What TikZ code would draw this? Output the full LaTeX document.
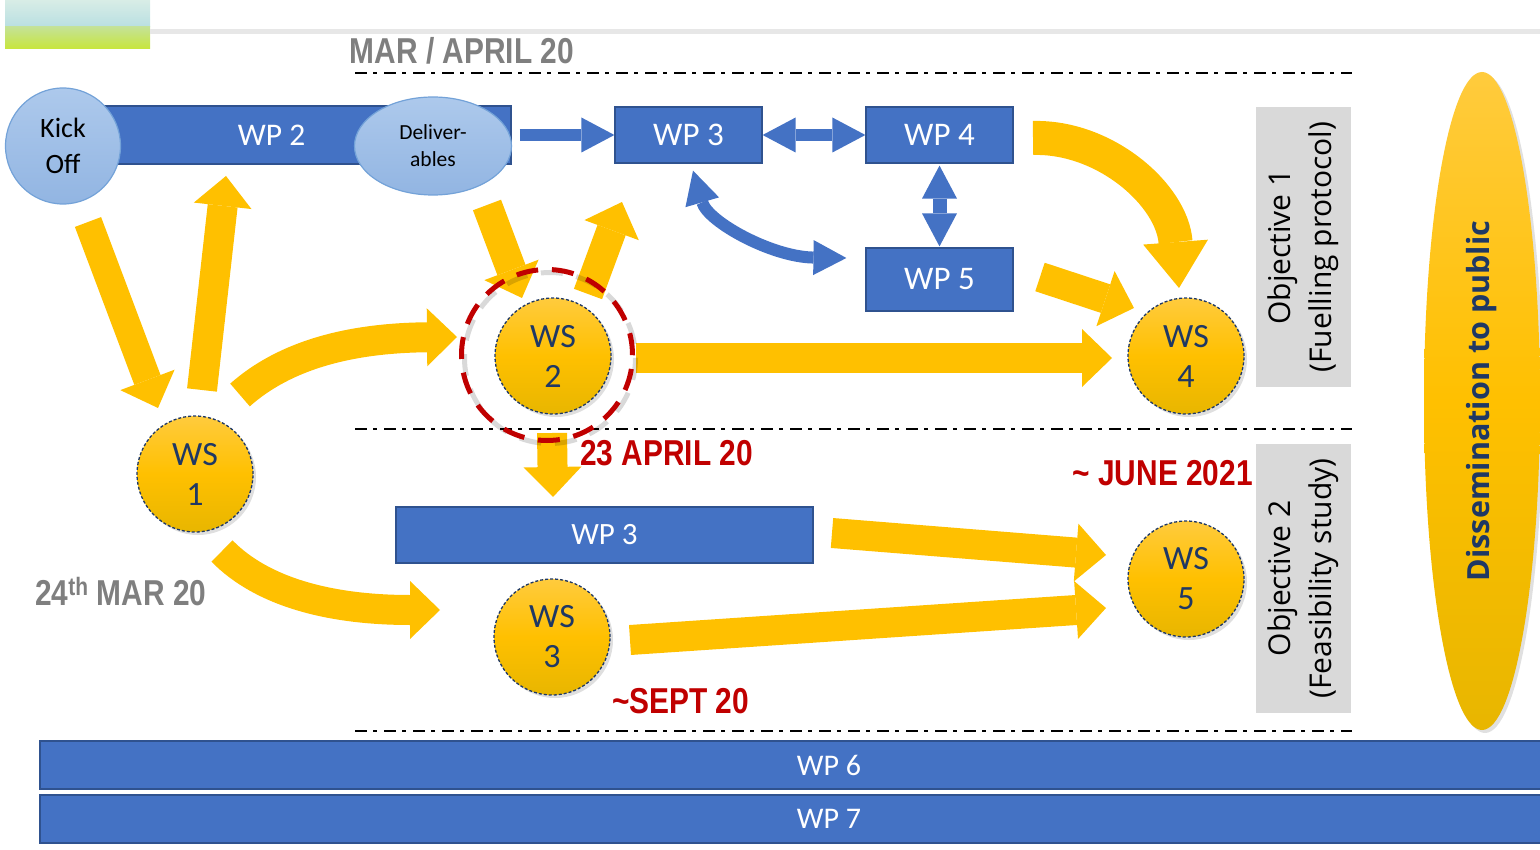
\documentclass[tikz,border=0pt]{standalone}
\usepackage{fontspec}
\setmainfont{Carlito}
\newfontfamily\osans{Open Sans}
\newfontfamily\narrow[FakeStretch=0.83]{Liberation Sans}
\usetikzlibrary{arrows.meta,shapes.geometric,shadows}
\definecolor{wpblue}{HTML}{4472C4}
\definecolor{wpedge}{HTML}{2F528F}
\definecolor{gold}{HTML}{FFC000}
\definecolor{goldlt}{HTML}{FFCB3D}
\definecolor{golddk}{HTML}{E8B600}
\definecolor{navy}{HTML}{1F3864}
\definecolor{datered}{HTML}{C00000}
\definecolor{dategray}{HTML}{7F7F7F}
\definecolor{objgray}{HTML}{D9D9D9}
\definecolor{skytop}{HTML}{ADC9EC}
\definecolor{skybot}{HTML}{92B5E2}
\definecolor{skyedge}{HTML}{73A2D8}
\definecolor{rulegray}{HTML}{E7E7E7}
\begin{document}
\begin{tikzpicture}[x=1pt,y=-1pt,
  wpbar/.style={rectangle, fill=wpblue, draw=wpedge, line width=1.2pt, inner sep=0,
    text=white, font=\fontsize{33}{40}\selectfont},
  bubble/.style={ellipse, inner sep=0, top color=skytop, bottom color=skybot,
    draw=skyedge, line width=1.2pt, align=center, text=black},
  wsnode/.style={circle, minimum size=116pt, inner sep=0, top color=goldlt,
    bottom color=golddk, middle color=gold, draw=navy, line width=1.3pt,
    dash pattern=on 3pt off 2pt, text=navy, align=center,
    font=\fontsize{34}{40}\selectfont,
    drop shadow={opacity=0.25, shadow xshift=3pt, shadow yshift=-3pt}},
  objbox/.style={rectangle, fill=objgray, inner sep=0, rotate=90, align=center,
    font=\osans\fontsize{30}{41}\selectfont},
  datetext/.style={inner sep=0, font=\narrow\bfseries\fontsize{36}{40}\selectfont},
  milestone/.style={draw=black, line width=2.6pt, dash pattern=on 12pt off 6pt on 4pt off 7pt},
  yarrow/.style={draw=gold, line width=30pt,
    -{Triangle[length=30pt, width=58pt, line width=0pt]}},
  bigyarrow/.style={draw=gold, line width=34pt,
    -{Triangle[length=46pt, width=65pt, line width=0pt]}},
  barrow/.style={draw=wpblue, line width=12pt,
    -{Triangle[length=33pt, width=35pt, line width=0pt]}},
  bbarrow/.style={draw=wpblue, line width=12pt,
    {Triangle[length=33pt, width=35pt, line width=0pt]}-{Triangle[length=33pt, width=35pt, line width=0pt]}}
]
\useasboundingbox (0,0) rectangle (1540,850);

% header band
\shade[top color={rgb,255:red,216;green,237;blue,230}, bottom color={rgb,255:red,185;green,223;blue,226}]
  (5,0) rectangle (150,27);
\shade[top color={rgb,255:red,196;green,226;blue,150}, bottom color={rgb,255:red,200;green,230;blue,58}]
  (5,27) rectangle (150,49);
\draw[rulegray, line width=5pt] (150,31.5) -- (1545,31.5);

% milestone lines
\draw[milestone] (355,73) -- (1352,73);
\draw[milestone] (355,429) -- (1352,429);
\draw[milestone] (355,731) -- (1352,731);

% date labels
\node[datetext, text=dategray, anchor=base] (tmar) at (462,64) {MAR / APRIL 20};
\node[datetext, text=dategray, anchor=base west] (t24) at (35,605) {24\textsuperscript{th} MAR 20};
\node[datetext, text=datered, anchor=base west] (t23) at (580,465) {23 APRIL 20};
\node[datetext, text=datered, anchor=base east] (tjune) at (1253,485) {\textasciitilde\ JUNE 2021};
\node[datetext, text=datered, anchor=base west] (tsept) at (612,713) {\textasciitilde SEPT 20};

% work packages
\node[wpbar, minimum width=409pt, minimum height=58pt,
  label={[xshift=-35pt, text=white, font=\fontsize{31.5}{36}\selectfont]center:WP 2}] (wp2) at (306.5,135) {};
\node[bubble, minimum width=115pt, minimum height=116pt, font=\fontsize{28}{36}\selectfont] (ko) at (63,146) {Kick\\Off};
\node[bubble, minimum width=157pt, minimum height=98pt, font=\fontsize{21.5}{27}\selectfont] (del) at (433,146) {Deliver-\\ables};
\node[wpbar, minimum width=147pt, minimum height=56pt] (wp3) at (688.5,135) {WP 3};
\node[wpbar, minimum width=147pt, minimum height=56pt] (wp4) at (939.5,135) {WP 4};
\node[wpbar, minimum width=147pt, minimum height=63pt] (wp5) at (939.5,279.5) {WP 5};
\node[wpbar, minimum width=417pt, minimum height=56pt, font=\fontsize{31}{36}\selectfont] (wp3b) at (604.5,535) {WP 3};
\node[wpbar, minimum width=1578pt, minimum height=48pt, font=\fontsize{30}{36}\selectfont] (wp6) at (829,765) {WP 6};
\node[wpbar, minimum width=1578pt, minimum height=48pt, font=\fontsize{30}{36}\selectfont] (wp7) at (829,819) {WP 7};

% links between work packages
\draw[barrow, shorten <=8pt] (wp2.east) -- (wp3.west);
\draw[bbarrow] (wp3.east) -- (wp4.west);
\draw[bbarrow, line width=14pt, shorten <=2pt, shorten >=1pt] (wp4.south) -- (wp5.north);
\draw[bbarrow] ([shift={(4.5,7)}]wp3.south) .. controls (708,222) and (772,257) .. ([shift={(-19,-21.5)}]wp5.west);

% objectives and dissemination
\node[objbox, minimum width=280pt, minimum height=95pt] (obj1) at (1303.5,247) {Objective 1\\(Fuelling protocol)};
\node[objbox, minimum width=269pt, minimum height=95pt] (obj2) at (1303.5,578.5) {Objective 2\\(Feasibility study)};
\fill[black, opacity=0.12] (1485,404) ellipse [x radius=58, y radius=329];
\node[ellipse, inner sep=0, minimum width=116pt, minimum height=658pt,
  top color=goldlt, bottom color=golddk, middle color=gold,
  label={[rotate=90, text=navy, font=\osans\bfseries\fontsize{30.5}{34}\selectfont]center:Dissemination to public}] (dis) at (1482,401) {};

% workshops
\node[wsnode] (ws1) at (195,474) {WS\\1};
\node[wsnode] (ws2) at (553,356) {WS\\2};
\node[wsnode] (ws3) at (552,637) {WS\\3};
\node[wsnode] (ws4) at (1186,356) {WS\\4};
\node[wsnode] (ws5) at (1186,579) {WS\\5};

% flows between workshops
\draw[yarrow, line width=28pt] ([shift={(25,76)}]ko.center) -- ([shift={(-37,-66)}]ws1.center);
\draw[yarrow] ([shift={(7,-84)}]ws1.center) -- ([shift={(-80.5,41)}]wp2.center);
\draw[yarrow] ([shift={(45,-79)}]ws1.center) .. controls (285,355) and (350,338) .. ([shift={(-96,-19)}]ws2.center);
\draw[yarrow] ([shift={(54,59)}]del.center) -- ([shift={(-31,-58)}]ws2.center);
\draw[yarrow] ([shift={(35,-62)}]ws2.center) -- ([shift={(-66.5,67)}]wp3.center);
\draw[yarrow] ([shift={(83,2)}]ws2.center) -- ([shift={(-74,2)}]ws4.center);
\draw[bigyarrow] ([shift={(93.5,3)}]wp4.center) .. controls (1105,136) and (1172,195) .. ([shift={(-7,-68)}]ws4.center);
\draw[yarrow] ([shift={(100.5,-2.5)}]wp5.center) -- ([shift={(-52,-48)}]ws4.center);
\draw[yarrow] ([shift={(-1,77)}]ws2.center) -- ([shift={(-51.5,-38)}]wp3b.center);
\draw[yarrow] ([shift={(27,77)}]ws1.center) .. controls (262,592) and (330,610) .. ([shift={(-112,-27)}]ws3.center);
\draw[yarrow] ([shift={(78,3)}]ws3.center) -- ([shift={(-80,29)}]ws5.center);
\draw[yarrow] ([shift={(227.5,-2)}]wp3b.center) -- ([shift={(-80,-24)}]ws5.center);

% focus ring round workshop 2, with its soft shadow
\draw[black, opacity=0.15, line width=5pt, dash pattern=on 22pt off 13.8pt]
  ([shift={(-3,2)}]ws2.center) circle [radius=85.5];
\node[circle, minimum size=171pt, inner sep=0, draw=datered, line width=5pt,
  dash pattern=on 22pt off 13.8pt] (ring) at ([shift={(-6,-1)}]ws2.center) {};
\end{tikzpicture}
\end{document}
